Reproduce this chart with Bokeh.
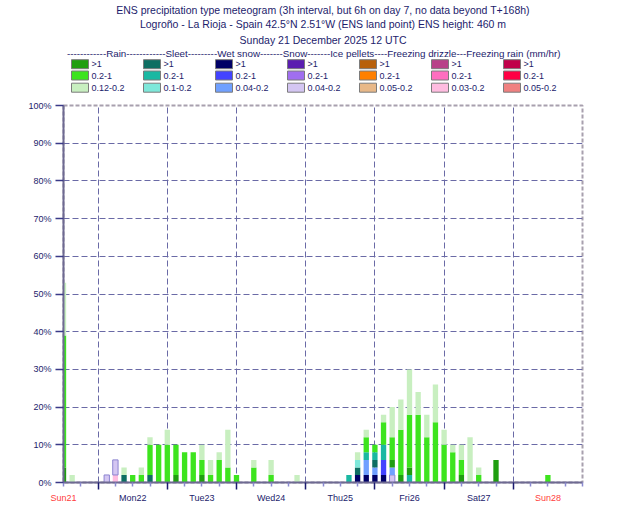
from bokeh.plotting import figure
from bokeh.layouts import column
from bokeh.models import Range1d, FixedTicker, ColumnDataSource
from bokeh.core.properties import value
from bokeh.transform import stack
from bokeh.embed import file_html
from bokeh.resources import INLINE

FONT = "Liberation Sans"
NAVY = "#1c1c6c"
RED = "#ff3c3c"

# ---------------- texts ----------------
title_lines = [
    "ENS precipitation type meteogram (3h interval, but 6h on day 7, no data beyond T+168h)",
    "Logroño - La Rioja - Spain 42.5°N 2.51°W (ENS land point) ENS height: 460 m",
    "Sunday 21 December 2025 12 UTC",
]
header_text = ("------------Rain------------Sleet---------Wet snow-------Snow-------"
               "Ice pellets----Freezing drizzle---Freezing rain (mm/hr)")

legend_types = ["Rain", "Sleet", "Wet snow", "Snow", "Ice pellets", "Freezing drizzle", "Freezing rain"]
legend_classes = [
    [">1", "0.2-1", "0.12-0.2"],
    [">1", "0.2-1", "0.1-0.2"],
    [">1", "0.2-1", "0.04-0.2"],
    [">1", "0.2-1", "0.04-0.2"],
    [">1", "0.2-1", "0.05-0.2"],
    [">1", "0.2-1", "0.03-0.2"],
    [">1", "0.2-1", "0.05-0.2"],
]
legend_colors = [
    ["#1f9e10", "#3de41e", "#c8efc0"],
    ["#0e6e62", "#1ab8a2", "#7ee8da"],
    ["#000066", "#4343ff", "#70a0ff"],
    ["#5a1db0", "#a06ef0", "#d4c6f2"],
    ["#b8600a", "#ff8000", "#e8b888"],
    ["#b84088", "#ff6ec0", "#ffbce0"],
    ["#c0004a", "#ff0044", "#f08080"],
]

day_hours = [0, 24, 48, 72, 96, 120, 144, 168]
day_labels = ["Sun21", "Mon22", "Tue23", "Wed24", "Thu25", "Fri26", "Sat27", "Sun28"]
day_colors = [RED, NAVY, NAVY, NAVY, NAVY, NAVY, NAVY, RED]

y_ticks = [0, 10, 20, 30, 40, 50, 60, 70, 80, 90, 100]
midnight_hours = [12, 36, 60, 84, 108, 132, 156]
six_hour_ticks = [h for h in range(0, 181, 6) if h not in midnight_hours]

# ---------------- data (% of members), hours after base time ----------------
hours = [0, 3, 15, 18, 21, 24, 27, 30, 33, 36,
         39, 42, 45, 48, 51, 54, 57, 60, 66, 72,
         81, 99, 102, 105, 108, 111, 114, 117, 120, 123,
         126, 129, 132, 135, 138, 141, 144, 150, 168]

rain_hi = [4, 0, 0, 0, 0, 0, 0, 0, 0, 0,
           2, 0, 0, 2, 0, 0, 0, 0, 0, 0,
           0, 0, 0, 0, 0, 0, 2, 2, 2, 0,
           0, 0, 0, 0, 2, 0, 0, 6, 0]
rain_mid = [35, 0, 0, 0, 0, 2, 2, 8, 10, 10,
            8, 8, 8, 4, 2, 6, 4, 2, 4, 2,
            0, 0, 0, 4, 2, 6, 6, 12, 14, 18,
            12, 16, 10, 8, 4, 0, 2, 0, 2]
rain_lo = [14, 2, 0, 0, 2, 0, 2, 2, 0, 4,
           0, 0, 0, 4, 4, 2, 10, 0, 2, 4,
           2, 0, 2, 2, 0, 2, 8, 8, 12, 6,
           6, 10, 4, 2, 4, 12, 2, 0, 0]
sleet_hi = [0, 0, 0, 0, 2, 0, 0, 2, 0, 0,
            0, 0, 0, 0, 0, 0, 0, 0, 0, 0,
            0, 0, 2, 0, 2, 0, 0, 0, 0, 0,
            0, 0, 0, 0, 0, 0, 0, 0, 0]
sleet_mid = [0, 0, 0, 0, 0, 0, 0, 0, 0, 0,
             0, 0, 0, 0, 0, 0, 0, 0, 0, 0,
             0, 2, 0, 2, 2, 4, 0, 0, 2, 0,
             0, 0, 0, 0, 0, 0, 0, 0, 0]
sleet_lo = [0, 0, 0, 0, 0, 0, 0, 0, 0, 0,
            0, 0, 0, 0, 0, 0, 0, 0, 0, 0,
            0, 0, 2, 0, 0, 0, 0, 0, 0, 0,
            0, 0, 0, 0, 0, 0, 0, 0, 0]
wsnow_hi = [0, 0, 0, 0, 0, 0, 0, 0, 0, 0,
            0, 0, 0, 0, 0, 0, 0, 0, 0, 0,
            0, 0, 2, 2, 2, 2, 0, 0, 0, 0,
            0, 0, 0, 0, 0, 0, 0, 0, 0]
wsnow_mid = [0, 0, 0, 0, 0, 0, 0, 0, 0, 0,
             0, 0, 0, 0, 0, 0, 0, 0, 0, 0,
             0, 0, 0, 0, 0, 4, 0, 0, 0, 0,
             0, 0, 0, 0, 0, 0, 0, 0, 0]
wsnow_lo = [0, 0, 0, 0, 0, 0, 0, 0, 0, 0,
            0, 0, 0, 0, 0, 0, 0, 0, 0, 0,
            0, 0, 0, 4, 2, 0, 2, 0, 0, 0,
            0, 0, 0, 0, 0, 0, 0, 0, 0]
snow_lo = [0, 0, 2, 4, 0, 0, 0, 0, 0, 0,
           0, 0, 0, 0, 0, 0, 0, 0, 0, 0,
           0, 0, 0, 0, 0, 0, 2, 0, 0, 0,
           0, 0, 0, 0, 0, 0, 0, 0, 0]
fzdz_lo = [0, 0, 0, 2, 0, 0, 0, 0, 0, 0,
           0, 0, 0, 0, 0, 0, 0, 0, 0, 0,
           0, 0, 0, 0, 0, 0, 0, 0, 0, 0,
           0, 0, 0, 0, 0, 0, 0, 0, 0]

# stacking order bottom -> top
stack_names = ["fzdz_lo", "snow_lo", "wsnow_hi", "wsnow_mid", "wsnow_lo",
               "sleet_hi", "sleet_mid", "sleet_lo", "rain_hi", "rain_mid", "rain_lo"]
stack_colors = {
    "rain_hi": legend_colors[0][0], "rain_mid": legend_colors[0][1], "rain_lo": legend_colors[0][2],
    "sleet_hi": legend_colors[1][0], "sleet_mid": legend_colors[1][1], "sleet_lo": legend_colors[1][2],
    "wsnow_hi": legend_colors[2][0], "wsnow_mid": legend_colors[2][1], "wsnow_lo": legend_colors[2][2],
    "snow_lo": legend_colors[3][2], "fzdz_lo": legend_colors[5][2],
}
stack_lines = {"snow_lo": "#8c84d0"}

src = ColumnDataSource(dict(
    hours=hours, rain_hi=rain_hi, rain_mid=rain_mid, rain_lo=rain_lo,
    sleet_hi=sleet_hi, sleet_mid=sleet_mid, sleet_lo=sleet_lo,
    wsnow_hi=wsnow_hi, wsnow_mid=wsnow_mid, wsnow_lo=wsnow_lo,
    snow_lo=snow_lo, fzdz_lo=fzdz_lo,
))

W = 630
FRAME_L, FRAME_R = 63, 48
X_END = 180
K = (W - FRAME_L - FRAME_R) / X_END  # px per hour in the main frame

# ---------------- header figure (1 data unit = 1 screen pixel) ----------------
hdr = figure(width=W, height=100,
             x_range=Range1d(FRAME_L, W - FRAME_R), y_range=Range1d(100, 0),
             toolbar_location=None, output_backend="svg",
             x_axis_location=None, y_axis_location=None,
             min_border_left=FRAME_L, min_border_right=FRAME_R,
             min_border_top=0, min_border_bottom=0)
hdr.grid.visible = False
hdr.outline_line_color = None

hdr.text(x=[322.5] * 3, y=[9.5, 23.5, 39], text=title_lines,
         text_font=value(FONT), text_font_size="10.5px", text_color=NAVY,
         text_align="center", text_baseline="middle")
hdr.text(x=[66.5], y=[52.5], text=[header_text],
         text_font=value(FONT), text_font_size="9.8px", text_color=NAVY,
         text_align="left", text_baseline="middle")

row_y = [63.7, 75.0, 87.2]
bx, by, bc, bt = [], [], [], []
for i, (cls, cols) in enumerate(zip(legend_classes, legend_colors)):
    for j in range(3):
        bx.append(79.5 + 72 * i)
        by.append(row_y[j])
        bc.append(cols[j])
        bt.append(cls[j])
hdr.rect(x=bx, y=by, width=17, height=9, fill_color=bc, line_color="#7c7c7c", line_width=1)
hdr.text(x=[v + 11.5 for v in bx], y=by, text=bt,
         text_font=value(FONT), text_font_size="9px", text_color=NAVY,
         text_align="left", text_baseline="middle")

# ---------------- main figure ----------------
p = figure(width=W, height=392, x_range=Range1d(0, X_END), y_range=Range1d(0, 100),
           toolbar_location=None, output_backend="svg",
           min_border_left=FRAME_L, min_border_right=FRAME_R,
           min_border_top=5, min_border_bottom=10)
p.background_fill_color = "white"
p.outline_line_color = "#a8a0ae"
p.outline_line_width = 2
p.outline_line_dash = "4 2"

BAR_W = 1.85
done = []
for name in stack_names:
    p.vbar(x="hours", bottom=stack(*done) if done else 0, top=stack(*(done + [name])),
           width=BAR_W, source=src, fill_color=stack_colors[name],
           line_color=stack_lines.get(name, None), line_width=1)
    done.append(name)

# y axis
p.yaxis.ticker = FixedTicker(ticks=y_ticks)
p.yaxis.major_label_overrides = {t: f"{t}%" for t in y_ticks}
p.yaxis.major_label_text_font = FONT
p.yaxis.major_label_text_font_size = "9px"
p.yaxis.major_label_text_color = NAVY
p.yaxis.major_label_standoff = 4
p.yaxis.major_tick_in = 0
p.yaxis.major_tick_out = 8
p.yaxis.major_tick_line_color = "#3a3a88"
p.yaxis.major_tick_line_width = 1.5
p.yaxis.minor_tick_line_color = None
p.yaxis.axis_line_color = "#6e6a92"
p.yaxis.axis_line_width = 2

# x axis (ticks only; day labels are drawn in the footer)
p.xaxis.ticker = FixedTicker(ticks=midnight_hours, minor_ticks=six_hour_ticks)
p.xaxis.major_label_overrides = {t: "" for t in midnight_hours}
p.xaxis.major_label_text_font_size = "1px"
p.xaxis.major_label_standoff = 0
p.xaxis.major_tick_in = 0
p.xaxis.major_tick_out = 7
p.xaxis.major_tick_line_color = "#1a1a70"
p.xaxis.major_tick_line_width = 1.5
p.xaxis.minor_tick_in = 0
p.xaxis.minor_tick_out = 4
p.xaxis.minor_tick_line_color = "#8a8ad0"
p.xaxis.minor_tick_line_width = 1.5
p.xaxis.axis_line_color = "#6e6a92"
p.xaxis.axis_line_width = 2

# grids
p.xgrid.ticker = FixedTicker(ticks=midnight_hours)
p.ygrid.ticker = FixedTicker(ticks=y_ticks[1:-1])
for g in (p.xgrid, p.ygrid):
    g.grid_line_color = "#6a6aa6"
    g.grid_line_dash = "6 3"
    g.grid_line_width = 1

# ---------------- footer figure: day labels on the same hour scale, full-width frame ----------------
ftr = figure(width=W, height=33,
             x_range=Range1d(-FRAME_L / K, X_END + FRAME_R / K), y_range=Range1d(33, 0),
             toolbar_location=None, output_backend="svg",
             x_axis_location=None, y_axis_location=None, frame_align=False,
             min_border_left=0, min_border_right=0, min_border_top=0, min_border_bottom=0)
ftr.grid.visible = False
ftr.outline_line_color = None
ftr.text(x=day_hours, y=[5] * len(day_hours), text=day_labels, text_color=day_colors,
         text_font=value(FONT), text_font_size="9px",
         text_align="center", text_baseline="middle")

layout = column(hdr, p, ftr, spacing=0)
open("out.html", "w").write(file_html(layout, INLINE))
